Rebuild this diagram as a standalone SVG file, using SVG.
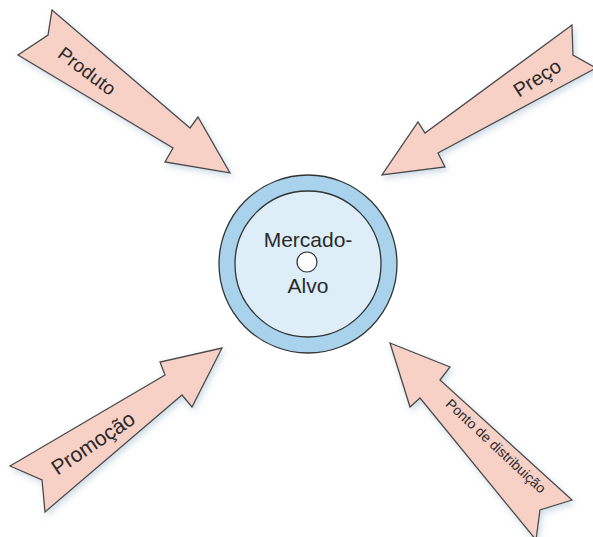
<svg xmlns="http://www.w3.org/2000/svg" width="593" height="537" viewBox="0 0 593 537">
<defs>
<filter id="sh" x="-20%" y="-20%" width="140%" height="140%">
<feDropShadow dx="2" dy="3" stdDeviation="3" flood-color="#9bb8c8" flood-opacity="0.5"/>
</filter>
</defs>
<style>
.arrow{fill:#f7d0c6;stroke:#4a4a4a;stroke-width:1.3;stroke-linejoin:miter;filter:url(#sh)}
.lbl{font-family:"Liberation Sans",Arial,sans-serif;fill:#2a2a2a;text-anchor:middle}
</style>
<rect width="593" height="537" fill="#ffffff"/>
<g id="connectors">
<g id="produto">
<polygon class="arrow" points="52,10 190,128 198,117 230,173 165,162 173,148 18,55 48,35"/>
<text class="lbl" font-size="19" dy="0.35em" transform="translate(87,71) rotate(37)">Produto</text>
</g>
<g id="preco">
<polygon class="arrow" points="572,25 425,133 418,122 382,175 445,167 438,153 596,68 573,55"/>
<text class="lbl" font-size="20" dy="0.35em" transform="translate(537,78) rotate(-33)">Preço</text>
</g>
<g id="promocao">
<polygon class="arrow" points="10,466 165,375 160,362 222,348 192,407 182,395 45,512 42,480"/>
<text class="lbl" font-size="21" dy="0.35em" transform="translate(93,443) rotate(-34)">Promoção</text>
</g>
<g id="ponto">
<polygon class="arrow" points="390,343 450,367 440,380 572,500 540,510 536,540 420,398 410,407"/>
<text class="lbl" font-size="14" dy="0.35em" transform="translate(496,446) rotate(43)">Ponto de distribuição</text>
</g>
</g>
<g id="mercado-alvo">
<circle cx="308" cy="264" r="89" fill="#a9d3ec" stroke="#333" stroke-width="1.3"/>
<circle cx="308" cy="264" r="73" fill="#deeef8" stroke="#333" stroke-width="1.3"/>
<circle cx="307" cy="262" r="10" fill="#ffffff" stroke="#333" stroke-width="1.2"/>
<text class="lbl" font-size="21" x="308" y="247">Mercado-</text>
<text class="lbl" font-size="21" x="308" y="293">Alvo</text>
</g>
</svg>
